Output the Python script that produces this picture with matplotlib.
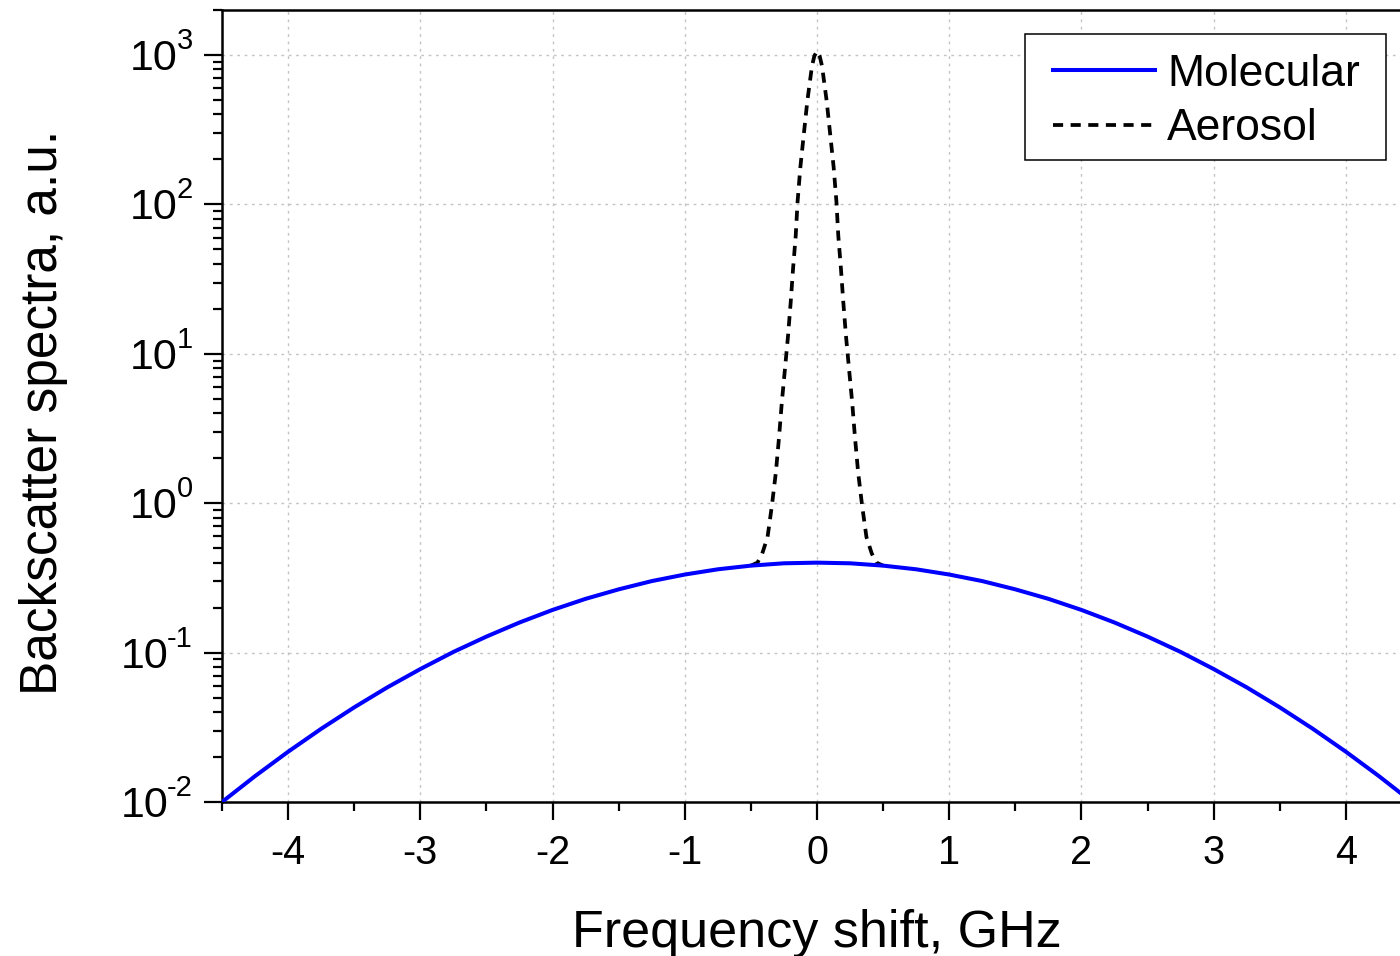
import matplotlib
matplotlib.use("Agg")
import matplotlib.pyplot as plt
import matplotlib.transforms as mtrans
from matplotlib.patches import Rectangle
from matplotlib.ticker import MultipleLocator, LogLocator, NullFormatter, FixedLocator

plt.rcParams['font.family'] = ['Liberation Sans', 'DejaVu Sans']

# ---- data ----
mol_x = [-4.5, -4.25, -4.0, -3.75, -3.5, -3.25, -3.0, -2.75, -2.5, -2.25, -2.0,
         -1.75, -1.5, -1.25, -1.0, -0.75, -0.5, -0.25, 0.0, 0.25, 0.5, 0.75,
         1.0, 1.25, 1.5, 1.75, 2.0, 2.25, 2.5, 2.75, 3.0, 3.25, 3.5, 3.75,
         4.0, 4.25, 4.5]
mol_y = [0.0100, 0.0149, 0.0217, 0.0309, 0.0430, 0.0585, 0.0776, 0.101, 0.128,
         0.159, 0.193, 0.229, 0.265, 0.301, 0.333, 0.361, 0.382, 0.396, 0.400,
         0.396, 0.382, 0.361, 0.333, 0.301, 0.265, 0.229, 0.193, 0.159, 0.128,
         0.101, 0.0776, 0.0585, 0.0430, 0.0309, 0.0217, 0.0149, 0.0100]

aer_x = [-0.50, -0.45, -0.414, -0.374, -0.341, -0.311, -0.287, -0.266, -0.243,
         -0.219, -0.199, -0.181, -0.161, -0.147, -0.126, -0.101, -0.073, -0.038,
         -0.02, 0.0, 0.02, 0.038, 0.073, 0.101, 0.126, 0.147, 0.161, 0.181,
         0.199, 0.219, 0.243, 0.266, 0.287, 0.311, 0.341, 0.374, 0.414, 0.45, 0.50]
aer_y = [0.382, 0.40, 0.461, 0.593, 0.966, 1.61, 2.77, 4.74, 7.8, 13.2, 22.1,
         37.2, 61.7, 104, 177, 288, 493, 843, 985, 1060, 985, 843, 493, 288,
         177, 104, 61.7, 37.2, 22.1, 13.2, 7.8, 4.74, 2.77, 1.61, 0.966, 0.593,
         0.461, 0.40, 0.382]

x_ticks = [-4, -3, -2, -1, 0, 1, 2, 3, 4]
y_exponents = [-2, -1, 0, 1, 2, 3]

W, H = 1400, 956
fig = plt.figure(figsize=(W / 100, H / 100), dpi=100)
ax = fig.add_axes([222 / W, 1 - 802 / H, (1412 - 222) / W, (802 - 10) / H])

ax.plot(aer_x, aer_y, color='black', lw=2.7, linestyle=(0, (2.7, 2.0)),
        label='Aerosol', zorder=3)
ax.plot(mol_x, mol_y, color='#0000ff', lw=2.9, label='Molecular', zorder=4)

ax.set_yscale('log')
ax.set_xlim(-4.5, 4.5)
ax.set_ylim(1e-2, 2000)

ax.xaxis.set_major_locator(FixedLocator(x_ticks))
ax.set_xticklabels([str(t) for t in x_ticks])
ax.xaxis.set_minor_locator(MultipleLocator(0.5))
y_ticks = [10.0 ** e for e in y_exponents]
ax.yaxis.set_major_locator(FixedLocator(y_ticks))
ax.set_yticklabels([''] * len(y_ticks))
ax.yaxis.set_minor_locator(LogLocator(base=10, subs=range(2, 10)))
ax.yaxis.set_minor_formatter(NullFormatter())

ax.tick_params(axis='both', which='major', direction='out', length=13, width=1.6,
               color='black')
ax.tick_params(axis='both', which='minor', direction='out', length=6.5, width=1.6)
ax.tick_params(axis='x', which='major', labelsize=28.5, pad=10)
ax.tick_params(top=False, right=False, which='both')

for s in ['left', 'bottom', 'top']:
    ax.spines[s].set_linewidth(1.8)
ax.spines['right'].set_visible(False)

ax.grid(True, which='major', color='#c4c4c4', lw=1.0, linestyle=(0, (2, 3.3)))
ax.set_axisbelow(True)

# y tick labels: "10" with a superscript exponent (hyphen as in the reference)
renderer = fig.canvas.get_renderer()
blend = mtrans.blended_transform_factory(ax.transAxes, ax.transData)
for e in y_exponents:
    sup_tr = blend + mtrans.ScaledTranslation(-29 / 100, 6 / 100, fig.dpi_scale_trans)
    sup = ax.text(0, 10.0 ** e, str(e), fontsize=21, ha='right', va='baseline',
                  transform=sup_tr, clip_on=False)
    w = sup.get_window_extent(renderer=renderer).width
    base_tr = blend + mtrans.ScaledTranslation((-29 - w + 1) / 100, -15 / 100,
                                               fig.dpi_scale_trans)
    ax.text(0, 10.0 ** e, '10', fontsize=31, ha='right', va='baseline',
            transform=base_tr, clip_on=False)

ax.set_xlabel('Frequency shift, GHz', fontsize=37.5, labelpad=27)
ax.set_ylabel('Backscatter spectra, a.u.', fontsize=37)
ax.yaxis.set_label_coords(-0.1295, 0.492)

# legend with a plain rectangular frame
handles, labels = ax.get_legend_handles_labels()
order = [1, 0]
leg = ax.legend([handles[i] for i in order], [labels[i] for i in order],
                loc='upper left', bbox_to_anchor=(1053 / W, 1 - 54 / H),
                bbox_transform=fig.transFigure, borderaxespad=0, borderpad=0,
                fontsize=32, frameon=False, handlelength=2.3,
                handletextpad=0.27, labelspacing=0.30)
leg.set_zorder(7)
frame = Rectangle((1025 / W, 1 - 160 / H), (1386 - 1025) / W, (160 - 34) / H,
                  transform=fig.transFigure, facecolor='white', edgecolor='black',
                  lw=1.1, zorder=6, clip_on=False)
ax.add_patch(frame)

fig.savefig('out.png', dpi=100)
